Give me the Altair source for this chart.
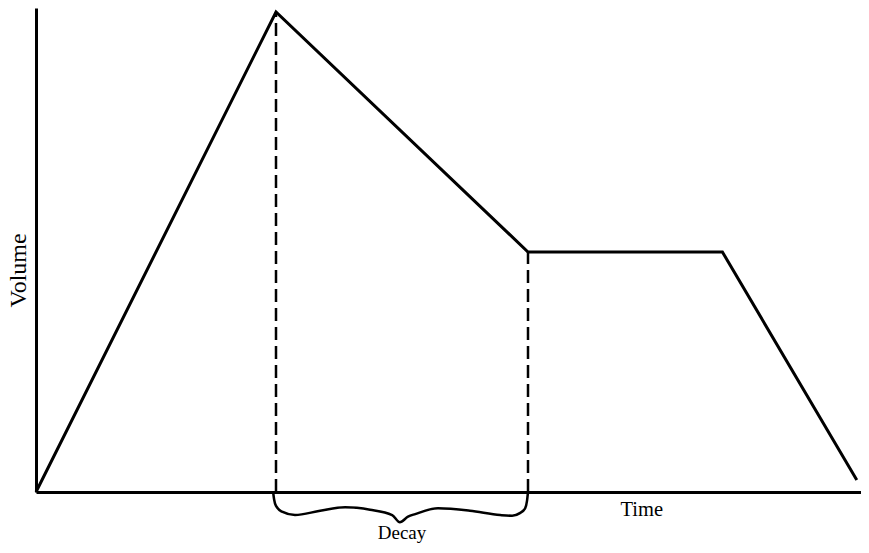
import altair as alt
import pandas as pd

# Envelope (arbitrary units)
env_time = [0, 50, 102.5, 143, 171]
env_volume = [0, 100, 50, 50, 2.5]

# Decay markers
decay_start = 50
decay_end = 102.5
decay_start_vol = 100
decay_end_vol = 50

# Brace under the decay span (shape in data units)
brace_t = [49.4, 49.6, 50.0, 51.25, 53.96, 59.2, 64.4, 69.6, 74.2, 75.8,
           77.5, 79.0, 83.75, 90.4, 96.7, 99.2, 100.8, 101.9, 102.3, 102.5]
brace_v = [0, -1.5, -2.9, -4.1, -4.8, -3.9, -3.2, -3.7, -4.8, -6.3,
           -5.15, -4.6, -3.4, -3.9, -4.8, -4.95, -4.4, -3.4, -1.8, 0]

X_MAX = 171.875
Y_MAX = 100.83
FONT = "Liberation Serif"

env_df = pd.DataFrame({"t": env_time, "v": env_volume, "o": range(len(env_time))})
dash_df = pd.DataFrame({"t": [decay_start, decay_end],
                        "v0": [0, 0],
                        "v1": [decay_start_vol, decay_end_vol]})
brace_df = pd.DataFrame({"t": brace_t, "v": brace_v, "o": range(len(brace_t))})
label_df = pd.DataFrame({"t": [(decay_start + decay_end) / 2], "label": ["Decay"]})

xscale = alt.Scale(domain=[0, X_MAX], nice=False, zero=False)
yscale = alt.Scale(domain=[0, Y_MAX], nice=False, zero=False)

xaxis = alt.Axis(domain=True, domainColor="black", domainWidth=3, ticks=False,
                 labels=False, grid=False, title="Time", titleFont=FONT,
                 titleFontSize=20.5, titleFontWeight="normal", titleColor="black",
                 titleX=584, titleY=23, titleAlign="left", titleBaseline="alphabetic")
yaxis = alt.Axis(domain=True, domainColor="black", domainWidth=3, ticks=False,
                 labels=False, grid=False, title="Volume", titleFont=FONT,
                 titleFontSize=24, titleFontWeight="normal", titleColor="black",
                 titleX=-11, titleY=262, titleAlign="center", titleBaseline="alphabetic",
                 titleAngle=270)

envelope = alt.Chart(env_df).mark_line(color="black", strokeWidth=3, strokeJoin="miter").encode(
    x=alt.X("t:Q", scale=xscale, axis=xaxis),
    y=alt.Y("v:Q", scale=yscale, axis=yaxis),
    order="o:Q",
)

dashes = alt.Chart(dash_df).mark_rule(color="black", strokeWidth=2.5, strokeDash=[13, 6]).encode(
    x="t:Q",
    y="v0:Q",
    y2="v1:Q",
)

brace = alt.Chart(brace_df).mark_line(color="black", strokeWidth=2.5, interpolate="monotone",
                                      clip=False).encode(
    x="t:Q",
    y="v:Q",
    order="o:Q",
)

decay_label = alt.Chart(label_df).mark_text(font=FONT, fontSize=19, color="black",
                                            baseline="alphabetic", align="center").encode(
    x="t:Q",
    y=alt.value(531),
    text="label:N",
)

chart = alt.layer(dashes, envelope, brace, decay_label).properties(
    width=825, height=484,
    autosize=alt.AutoSizeParams(type="none"),
    padding={"left": 28, "top": 0, "right": 0, "bottom": 53},
    background="white",
).configure_view(stroke=None)

chart.save("out.html", embed_options={"renderer": "svg", "actions": False})
